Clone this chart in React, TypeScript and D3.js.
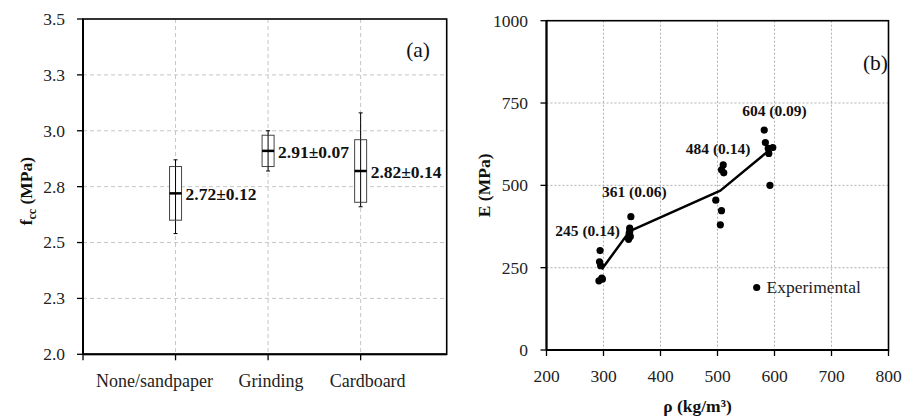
import React from "react";
import * as d3 from "d3";

// ---------- Panel (a) data ----------
const categories = ["None/sandpaper", "Grinding", "Cardboard"];
const means = [2.72, 2.91, 2.82];
const sds = [0.12, 0.07, 0.14];
const mins = [2.54, 2.82, 2.66];
const maxs = [2.87, 3.0, 3.08];
const yTicksA = [2.0, 2.25, 2.5, 2.75, 3.0, 3.25, 3.5];
const yTickLabelsA = ["2.0", "2.3", "2.5", "2.8", "3.0", "3.3", "3.5"];
const catLabelShift = [-21, 3, 7];

// ---------- Panel (b) data ----------
const expRho = [
  294, 293, 295, 297, 292, 298,
  348, 346, 346, 345, 347, 344,
  510, 507, 511, 497, 507, 505,
  582, 584, 589, 597, 590, 592,
];
const expE = [
  302, 268, 256, 218, 210, 215,
  405, 370, 360, 354, 345, 336,
  562, 547, 538, 455, 423, 380,
  668, 630, 612, 615, 597, 500,
];
const meanRho = [297, 346, 505, 589];
const meanE = [245, 361, 484, 604];
const annotText = ["245 (0.14)", "361 (0.06)", "484 (0.14)", "604 (0.09)"];
const annotRho = [272, 354, 501, 600];
const annotE = [362, 480, 613, 726];
const xTicksB = [200, 300, 400, 500, 600, 700, 800];
const yTicksB = [0, 250, 500, 750, 1000];

const FONT = "'Liberation Serif', 'Times New Roman', serif";

export default function App() {
  // Panel (a) scales
  const xa = d3.scaleLinear().domain([0, 3.93]).range([83, 446.7]);
  const ya = d3.scaleLinear().domain([2, 3.5]).range([354.3, 19]);
  // Panel (b) scales
  const xb = d3.scaleLinear().domain([200, 800]).range([546.5, 888.5]);
  const yb = d3.scaleLinear().domain([0, 1000]).range([350, 20.7]);

  const line = d3
    .line<number>()
    .x((_, i) => xb(meanRho[i]))
    .y((_, i) => yb(meanE[i]));

  const boxW = 12;

  return (
    <svg
      width={905}
      height={416}
      style={{ position: "absolute", left: 0, top: 0, background: "#fff" }}
      fontFamily={FONT}
    >
      <rect x={0} y={0} width={905} height={416} fill="#fff" />

      {/* ================= Panel (a) ================= */}
      <g>
        {yTicksA.slice(1, -1).map((t) => (
          <line
            key={"hg" + t}
            x1={xa(0)}
            x2={xa(3.93)}
            y1={ya(t)}
            y2={ya(t)}
            stroke="#c6c6c6"
            strokeDasharray="4,3"
            strokeWidth={1}
          />
        ))}
        {categories.map((c, i) => (
          <line
            key={"vg" + c}
            x1={xa(i + 1)}
            x2={xa(i + 1)}
            y1={ya(3.5)}
            y2={ya(2)}
            stroke="#c6c6c6"
            strokeDasharray="4,3"
            strokeWidth={1}
          />
        ))}
        <rect
          x={xa(0)}
          y={ya(3.5)}
          width={xa(3.93) - xa(0)}
          height={ya(2) - ya(3.5)}
          fill="none"
          stroke="#000"
          strokeWidth={1.6}
        />
        <line x1={xa(0)} x2={xa(0)} y1={ya(3.5)} y2={ya(2)} stroke="#000" strokeWidth={2} />
        <line x1={xa(0)} x2={xa(3.93)} y1={ya(2)} y2={ya(2)} stroke="#000" strokeWidth={2} />
        {yTicksA.map((t, i) => (
          <g key={"yt" + t}>
            <line x1={xa(0) - 6} x2={xa(0)} y1={ya(t)} y2={ya(t)} stroke="#000" strokeWidth={1.3} />
            <text x={65} y={ya(t)} dy="0.34em" textAnchor="end" fontSize={17.5} fill="#222">
              {yTickLabelsA[i]}
            </text>
          </g>
        ))}
        {[0, 1, 2, 3].map((t) => (
          <line key={"xt" + t} x1={xa(t)} x2={xa(t)} y1={ya(2)} y2={ya(2) + 6} stroke="#000" strokeWidth={1.3} />
        ))}
        {categories.map((c, i) => (
          <text
            key={"xl" + c}
            x={xa(i + 1) + catLabelShift[i]}
            y={386.5}
            textAnchor="middle"
            fontSize={18}
            fill="#222"
          >
            {c}
          </text>
        ))}
        {categories.map((c, i) => {
          const cx = xa(i + 1);
          return (
            <g key={"box" + c}>
              <line x1={cx} x2={cx} y1={ya(maxs[i])} y2={ya(mins[i])} stroke="#000" strokeWidth={1} />
              <line x1={cx - 2} x2={cx + 2} y1={ya(maxs[i])} y2={ya(maxs[i])} stroke="#000" strokeWidth={1} />
              <line x1={cx - 2} x2={cx + 2} y1={ya(mins[i])} y2={ya(mins[i])} stroke="#000" strokeWidth={1} />
              <rect
                x={cx - boxW / 2}
                y={ya(means[i] + sds[i])}
                width={boxW}
                height={ya(means[i] - sds[i]) - ya(means[i] + sds[i])}
                fill="#fff"
                stroke="#444"
                strokeWidth={1}
              />
              <line x1={cx} x2={cx} y1={ya(means[i] + sds[i])} y2={ya(means[i] - sds[i])} stroke="#000" strokeWidth={1} />
              <line
                x1={cx - boxW / 2}
                x2={cx + boxW / 2}
                y1={ya(means[i])}
                y2={ya(means[i])}
                stroke="#000"
                strokeWidth={2.5}
              />
              <text
                x={cx + boxW / 2 + 4}
                y={ya(means[i])}
                dy="0.38em"
                fontSize={17.5}
                fontWeight="bold"
                fill="#111"
              >
                {`${means[i].toFixed(2)}±${sds[i].toFixed(2)}`}
              </text>
            </g>
          );
        })}
        <text x={430} y={57} textAnchor="end" fontSize={21.5} fill="#111">
          (a)
        </text>
        <text
          transform={`translate(32, ${ya(2.73)}) rotate(-90)`}
          textAnchor="middle"
          fontSize={17.5}
          fontWeight="bold"
          fill="#111"
        >
          f
          <tspan fontSize={12} dy={4}>
            cc
          </tspan>
          <tspan dy={-4}> (MPa)</tspan>
        </text>
      </g>

      {/* ================= Panel (b) ================= */}
      <g>
        {yTicksB.slice(1, -1).map((t) => (
          <line
            key={"bhg" + t}
            x1={xb(200)}
            x2={xb(800)}
            y1={yb(t)}
            y2={yb(t)}
            stroke="#a8a8a8"
            strokeDasharray="2,2"
            strokeWidth={0.9}
          />
        ))}
        {xTicksB.slice(1, -1).map((t) => (
          <line
            key={"bvg" + t}
            x1={xb(t)}
            x2={xb(t)}
            y1={yb(1000)}
            y2={yb(0)}
            stroke="#a8a8a8"
            strokeDasharray="2,2"
            strokeWidth={0.9}
          />
        ))}
        <rect
          x={xb(200)}
          y={yb(1000)}
          width={xb(800) - xb(200)}
          height={yb(0) - yb(1000)}
          fill="none"
          stroke="#000"
          strokeWidth={1.6}
        />
        <line x1={xb(200)} x2={xb(200)} y1={yb(1000)} y2={yb(0)} stroke="#000" strokeWidth={2} />
        <line x1={xb(200)} x2={xb(800)} y1={yb(0)} y2={yb(0)} stroke="#000" strokeWidth={2} />
        {yTicksB.map((t) => (
          <g key={"byt" + t}>
            <line x1={xb(200) - 6} x2={xb(200)} y1={yb(t)} y2={yb(t)} stroke="#000" strokeWidth={1.3} />
            <text x={528} y={yb(t)} dy="0.34em" textAnchor="end" fontSize={17.5} fill="#222">
              {t}
            </text>
          </g>
        ))}
        {xTicksB.map((t) => (
          <g key={"bxt" + t}>
            <line x1={xb(t)} x2={xb(t)} y1={yb(0)} y2={yb(0) + 6} stroke="#000" strokeWidth={1.3} />
            <text x={xb(t)} y={381.5} textAnchor="middle" fontSize={17.5} fill="#222">
              {t}
            </text>
          </g>
        ))}
        <path d={line(meanE) || ""} fill="none" stroke="#000" strokeWidth={2.5} strokeLinejoin="round" />
        {expRho.map((r, i) => (
          <circle key={"pt" + i} cx={xb(r)} cy={yb(expE[i])} r={3.6} fill="#000" />
        ))}
        {annotText.map((s, i) => (
          <text
            key={"an" + i}
            x={xb(annotRho[i])}
            y={yb(annotE[i])}
            dy="0.35em"
            textAnchor="middle"
            fontSize={15.5}
            fontWeight="bold"
            fill="#111"
          >
            {s}
          </text>
        ))}
        <circle cx={756.7} cy={287.5} r={3.6} fill="#000" />
        <text x={766.5} y={287.5} dy="0.34em" fontSize={17.5} fill="#222">
          Experimental
        </text>
        <text x={888} y={70} textAnchor="end" fontSize={21.5} fill="#111">
          (b)
        </text>
        <text
          transform={`translate(490, ${yb(500)}) rotate(-90)`}
          textAnchor="middle"
          fontSize={17.5}
          fontWeight="bold"
          fill="#111"
        >
          E (MPa)
        </text>
        <text x={697.5} y={412} textAnchor="middle" fontSize={17.5} fontWeight="bold" fill="#111">
          ρ (kg/m³)
        </text>
      </g>
    </svg>
  );
}
